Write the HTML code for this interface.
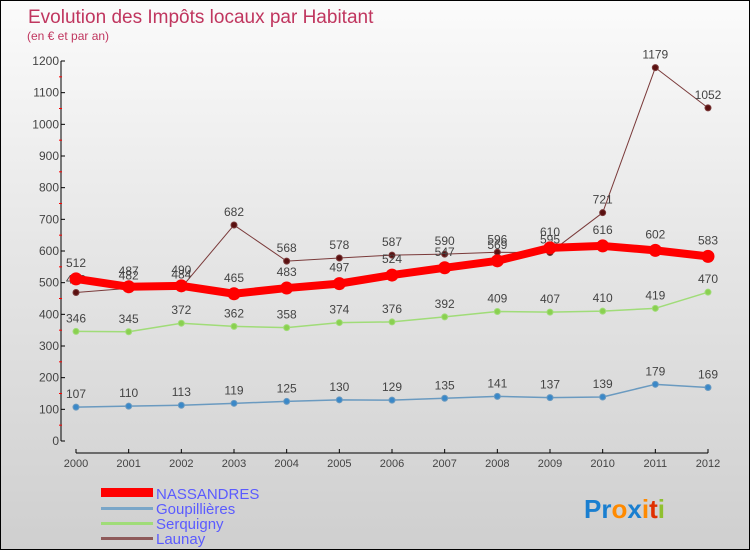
<!DOCTYPE html>
<html><head><meta charset="utf-8"><style>
body{margin:0}
#wrap{width:750px;height:550px;position:relative;box-sizing:border-box;border:1px solid #000;background:linear-gradient(#fbfbfb,#e6e6e6 45%,#cfcfcf);font-family:"Liberation Sans",sans-serif;overflow:hidden}
svg{position:absolute;left:0;top:0}
</style></head><body>
<div id="wrap">
<svg id="c" width="750" height="550">
<text x="27" y="22" font-size="19" fill="#c0365f">Evolution des Impôts locaux par Habitant</text>
<text x="26" y="39" font-size="12" fill="#c0365f">(en € et par an)</text>
<g id="axes"></g><g id="series"></g>
<g>
<rect x="100" y="487" width="52" height="9" fill="#f00"/>
<text x="155" y="498" font-size="15" fill="#5b5bff">NASSANDRES</text>
<rect x="100" y="506" width="52" height="3" fill="#7aa6c8"/>
<text x="155" y="513" font-size="15" fill="#5b5bff">Goupillières</text>
<rect x="100" y="521" width="52" height="3" fill="#a0dc78"/>
<text x="155" y="528" font-size="15" fill="#5b5bff">Serquigny</text>
<rect x="100" y="536" width="52" height="3" fill="#8e5a5a"/>
<text x="155" y="543" font-size="15" fill="#5b5bff">Launay</text>
</g>
<text x="583" y="517" font-size="26" font-weight="bold"><tspan fill="#1a7fd0">Pr</tspan><tspan fill="#ff8a00">o</tspan><tspan fill="#1a7fd0">x</tspan><tspan fill="#ff8a00">i</tspan><tspan fill="#e03000">t</tspan><tspan fill="#90c030">i</tspan></text>
</svg></div>
<script>
const years=[2000,2001,2002,2003,2004,2005,2006,2007,2008,2009,2010,2011,2012];
const nassandres=[512,487,490,465,483,497,524,547,569,610,616,602,583];
const goupillieres=[107,110,113,119,125,130,129,135,141,137,139,179,169];
const serquigny=[346,345,372,362,358,374,376,392,409,407,410,419,470];
const launay=[469,482,484,682,568,578,587,590,596,595,721,1179,1052];
const yTicks=[0,100,200,300,400,500,600,700,800,900,1000,1100,1200];
const NS="http://www.w3.org/2000/svg";
const X=i=>75+i*(707-75)/12;
const Y=v=>440-v*380/1200;
function mk(tag,at,parent){const e=document.createElementNS(NS,tag);for(const k in at)e.setAttribute(k,at[k]);parent.appendChild(e);return e;}
const ax=document.getElementById('axes');
let l=mk('line',{x1:60,y1:Y(0),x2:60,y2:Y(1200),stroke:'#000'},ax);


l=mk('line',{x1:75,y1:452,x2:707,y2:452,stroke:'#000'},ax);


yTicks.forEach(v=>{
 mk('line',{x1:60,y1:Y(v),x2:64,y2:Y(v),stroke:'#000'},ax);
 if(v<1200) mk('line',{x1:58,y1:Y(v+50),x2:61,y2:Y(v+50),stroke:'#f00'},ax);
 const t=mk('text',{x:58,y:Y(v)+4,'font-size':12,'text-anchor':'end',fill:'#444'},ax);
 t.textContent=v;
 
 
});
years.forEach((yr,i)=>{
 mk('line',{x1:X(i),y1:448,x2:X(i),y2:452,stroke:'#000'},ax);
 const t=mk('text',{x:X(i),y:466,'font-size':11,'text-anchor':'middle',fill:'#444'},ax);
 t.textContent=yr;
 
 
});
const sg=document.getElementById('series');
function draw(data,name,color,dot,w,r){
 const g=mk('g',{},sg);
 
 
 const p=mk('polyline',{points:data.map((v,i)=>X(i)+','+Y(v)).join(' '),fill:'none',stroke:color,'stroke-width':w,'stroke-linejoin':'round'},g);
 
 
 data.forEach((v,i)=>{
  const c=mk('circle',{cx:X(i),cy:Y(v),r:r,fill:dot,stroke:color,'stroke-width':1},g);
  
  
  const t=mk('text',{x:X(i),y:Y(v)-(r+6),'font-size':12,'text-anchor':'middle',fill:'#444'},g);
  t.textContent=v;
  
  
 });
}
draw(goupillieres,'goupillieres','#6a9ac0','#3a88c8',1.5,3);
draw(serquigny,'serquigny','#a0dc78','#8ad050',1.5,3);
draw(launay,'launay','#7a3a3a','#5a1010',1,3);
draw(nassandres,'nassandres','#f00','#f00',8,6);
</script>
</body></html>
